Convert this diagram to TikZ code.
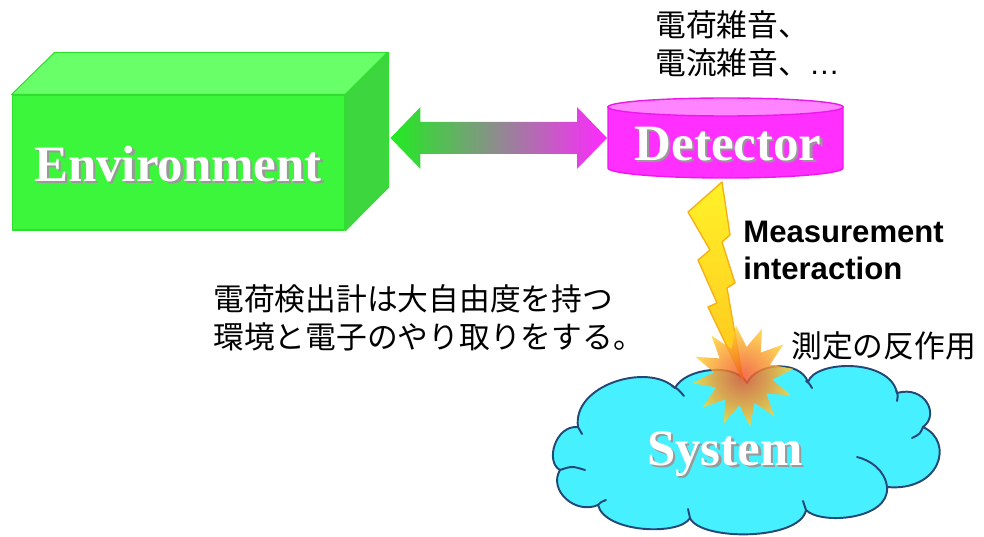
\documentclass[tikz,border=0pt]{standalone}
\usepackage{fontspec}
\setmainfont{Liberation Serif}
\setsansfont{Liberation Sans}
\newfontfamily\jafont{Noto Sans CJK JP}
\usetikzlibrary{shapes.geometric,calc}

\definecolor{envfront}{RGB}{60,246,60}
\definecolor{envtop}{RGB}{104,255,104}
\definecolor{envside}{RGB}{62,214,62}
\definecolor{envedge}{RGB}{48,222,48}
\definecolor{detbody}{RGB}{255,48,255}
\definecolor{dettop}{RGB}{255,132,255}
\definecolor{detedge}{RGB}{236,24,236}
\definecolor{arrowgreen}{RGB}{32,236,32}
\definecolor{arrowmid}{RGB}{196,192,196}
\definecolor{arrowpink}{RGB}{255,40,255}
\definecolor{boltfill}{RGB}{255,242,40}
\definecolor{boltorange}{RGB}{255,196,30}
\definecolor{boltedge}{RGB}{248,176,24}
\definecolor{burstred}{RGB}{240,80,40}
\definecolor{burstyellow}{RGB}{255,214,50}
\definecolor{cloudfill}{RGB}{70,240,255}
\definecolor{cloudedge}{RGB}{36,72,118}

\newcommand\embossed[1]{\makebox[0pt][l]{\hspace{1.3pt}\raisebox{-1.3pt}{\textcolor{black!40}{#1}}}#1}

\begin{document}
\begin{tikzpicture}[x=0.02cm, y=-0.02cm,
  block label/.style={text=white, font=\bfseries\fontsize{29}{32}\selectfont, inner sep=0pt},
  ja text/.style={font=\jafont\fontsize{17.5}{21.6}\selectfont, align=left, anchor=north west, inner sep=0pt},
  face/.style={draw=envedge, line width=0.6pt, line join=round},
  cloud line/.style={draw=cloudedge, line width=1.1pt, line cap=round}]
\useasboundingbox (0,0) rectangle (984,537);

% environment block
\node[fill=envfront, face, minimum width=6.66cm, minimum height=2.7cm, inner sep=0pt] (env) at (178.5,162.5) {};
\filldraw[fill=envtop, face] (env.north west) -- ++(43,-42) -- ++(333,0) -- (env.north east) -- cycle;
\filldraw[fill=envside, face] (env.north east) -- ++(43,-42) -- ++(0,135) -- (env.south east) -- cycle;
\node[block label] (envlabel) at (178,165) {\embossed{Environment}};

% detector cylinder
\filldraw[fill=detbody, draw=detedge, line width=0.8pt] (608,107) -- (608,168) arc[start angle=180, end angle=0, x radius=117.5, y radius=10] -- (843,107) -- cycle;
\filldraw[fill=dettop, draw=detedge, line width=0.8pt] (725.5,107) ellipse[x radius=117.5, y radius=9];
\node[block label] (det) at (728,145) {\embossed{Detector}};

% exchange arrow
\coordinate (arrowL) at ($(env.east)+(45,-24.5)$);
\coordinate (arrowR) at (607,138);
\shade[left color=arrowgreen, middle color=arrowmid, right color=arrowpink]
  (arrowL) -- ++(30,-31) -- ++(0,15) -- ($(arrowR)+(-30,-16)$) -- ++(0,-15) -- (arrowR)
  -- ++(-30,31) -- ++(0,-15) -- ($(arrowL)+(30,16)$) -- ++(0,15) -- cycle;

% system cloud, one curve per puff
\filldraw[fill=cloudfill, cloud line, line join=round]
  (578,427) .. controls (572,385) and (648,362) .. (675,388)
  .. controls (685,368) and (735,362) .. (747,383)
  .. controls (757,362) and (800,360) .. (808,382)
  .. controls (815,360) and (890,358) .. (897,393)
  .. controls (925,385) and (940,415) .. (923,427)
  .. controls (955,442) and (940,492) .. (887,487)
  .. controls (890,520) and (820,525) .. (806,510)
  .. controls (800,541) and (700,541) .. (690,518)
  .. controls (680,536) and (605,533) .. (598,505)
  .. controls (575,515) and (548,490) .. (560,470)
  .. controls (545,462) and (555,425) .. cycle;
\draw[cloud line] (672,386) .. controls (678,389) .. (684,396);
\draw[cloud line] (806,381) .. controls (809,383) .. (812,388);
\draw[cloud line] (896,390) .. controls (898,395) .. (897,401);
\draw[cloud line] (923,427) .. controls (920,434) .. (912,438);
\draw[cloud line] (887,487) .. controls (885,470) and (870,460) .. (857,457);
\draw[cloud line] (806,510) .. controls (804,506) .. (803,501);
\draw[cloud line] (690,518) .. controls (689,514) .. (688,509);
\draw[cloud line] (598,505) .. controls (601,502) .. (606,500);
\draw[cloud line] (560,470) .. controls (572,466) .. (585,470);
\draw[cloud line] (578,427) .. controls (580,430) .. (582,434);
\node[block label] (sys) at (725,455) {\embossed{System}};

% lightning and impact
\shadedraw[top color=boltfill, bottom color=boltorange, draw=boltedge, line width=0.8pt, line join=round]
  (722,182) -- (730,235) -- (722,242) -- (735,283) -- (727,288) -- (743,380) -- (708,307)
  -- (717,303) -- (698,260) -- (710,250) -- (688,212) -- cycle;
\node[star, star points=12, star point ratio=1.75, minimum size=2.05cm, inner sep=0pt, rotate=8,
  inner color=burstred, outer color=burstyellow, fill opacity=0.82] (burst) at (743,376) {};

% texts
\node[ja text] (noise) at (655,10) {電荷雑音、\\電流雑音、\textsf{…}};
\node[ja text] (exchange) at (213,284) {電荷検出計は大自由度を持つ\\環境と電子のやり取りをする。};
\node[ja text] (backaction) at (791,331) {測定の反作用};
\node[font=\sffamily\bfseries\fontsize{17.7}{21}\selectfont, align=left, anchor=north west, inner sep=0pt] (meas) at (743,221) {Measurement\\interaction};
\end{tikzpicture}
\end{document}
